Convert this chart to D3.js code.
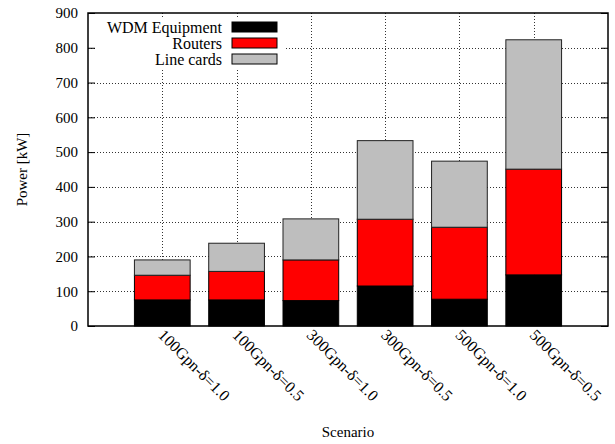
<!DOCTYPE html>
<html>
<head>
<meta charset="utf-8">
<script src="https://cdn.jsdelivr.net/npm/d3@7"></script>
<style>
  html, body { margin: 0; padding: 0; background: #fff; }
</style>
</head>
<body>
<svg id="chart" width="615" height="444"></svg>
<script>
// Scenarios and stacked power components (kW)
const scenarios = ["100Gpn-δ=1.0", "100Gpn-δ=0.5", "300Gpn-δ=1.0", "300Gpn-δ=0.5", "500Gpn-δ=1.0", "500Gpn-δ=0.5"];
const wdmEquipment = [75, 75, 73, 115, 77, 147];
const routers = [71, 82, 117, 192, 207, 304];
const lineCards = [44, 81, 118, 226, 190, 372];
const seriesNames = ["WDM Equipment", "Routers", "Line cards"];
const seriesColors = ["#000000", "#ff0000", "#bebebe"];
const yTicks = [0, 100, 200, 300, 400, 500, 600, 700, 800, 900];

const FONT = "'Liberation Serif', 'Times New Roman', Times, 'DejaVu Serif', serif";

const svg = d3.select("#chart");
const margin = { left: 88, right: 7, top: 13, bottom: 118 };
const W = 615, H = 444;
const x0 = margin.left, x1 = W - margin.right;
const y0 = H - margin.bottom, y1 = margin.top;

// Bars sit at integer positions 1..6 on a 0..7 axis
const x = d3.scaleLinear().domain([0, scenarios.length + 1]).range([x0, x1]);
const y = d3.scaleLinear().domain([0, 900]).range([y0, y1]);
const barW = (x(1) - x(0)) * 0.75;

const rows = scenarios.map((s, i) => ({
  scenario: s, idx: i + 1,
  "WDM Equipment": wdmEquipment[i], "Routers": routers[i], "Line cards": lineCards[i]
}));
const stacked = d3.stack().keys(seriesNames)(rows);

function label(sel, size = 15) {
  return sel.style("font-family", FONT).style("font-size", size + "px").attr("fill", "#000");
}

// Grid
const grid = svg.append("g").attr("stroke", "#333").attr("stroke-width", 1)
  .attr("stroke-dasharray", "1,2").attr("shape-rendering", "crispEdges");
yTicks.filter(t => t > 0 && t < 900).forEach(t => {
  grid.append("line").attr("x1", x0).attr("x2", x1)
    .attr("y1", Math.round(y(t)) + 0.5).attr("y2", Math.round(y(t)) + 0.5);
});
rows.forEach(r => {
  grid.append("line").attr("y1", y0).attr("y2", y1)
    .attr("x1", Math.round(x(r.idx)) + 0.5).attr("x2", Math.round(x(r.idx)) + 0.5);
});

// Stacked bars
stacked.forEach((layer, k) => {
  svg.append("g").selectAll("rect").data(layer).join("rect")
    .attr("x", d => x(d.data.idx) - barW / 2)
    .attr("width", barW)
    .attr("y", d => y(d[1]))
    .attr("height", d => y(d[0]) - y(d[1]))
    .attr("fill", seriesColors[k])
    .attr("stroke", k === 2 ? "#222" : "#000")
    .attr("stroke-width", 1);
});

// Legend with white backing
const legX = 222, legSwX = 232, legSwW = 45, legY0 = 27, legDy = 16;
svg.append("rect").attr("x", 96).attr("y", 17).attr("width", 190).attr("height", 51).attr("fill", "#fff");
seriesNames.forEach((n, k) => {
  const cy = legY0 + k * legDy;
  svg.append("text").attr("x", legX).attr("y", cy).attr("dy", "0.35em")
    .attr("text-anchor", "end").call(label, 16).text(n);
  svg.append("rect").attr("x", legSwX).attr("y", cy - 5).attr("width", legSwW).attr("height", 10)
    .attr("fill", seriesColors[k]).attr("stroke", "#000").attr("stroke-width", 1);
});

// Border
svg.append("rect").attr("x", x0).attr("y", y1).attr("width", x1 - x0).attr("height", y0 - y1)
  .attr("fill", "none").attr("stroke", "#000").attr("stroke-width", 1.5);

// Left axis (ticks inward)
const yAxisL = d3.axisLeft(y).tickValues(yTicks).tickSizeInner(-7).tickSizeOuter(0).tickPadding(10);
const gL = svg.append("g").attr("transform", `translate(${x0},0)`).call(yAxisL);
gL.select(".domain").remove();
gL.selectAll("text").call(label, 15);
gL.selectAll("line").attr("stroke", "#000");

// Right axis (ticks inward)
const yAxisR = d3.axisRight(y).tickValues(yTicks).tickSizeInner(-7).tickSizeOuter(0).tickFormat("");
const gR = svg.append("g").attr("transform", `translate(${x1},0)`).call(yAxisR);
gR.select(".domain").remove();
gR.selectAll("line").attr("stroke", "#000");

// Rotated category labels
const gx = svg.append("g");
rows.forEach(r => {
  gx.append("text")
    .attr("transform", `translate(${x(r.idx) - 5},${y0 + 10}) rotate(45)`)
    .attr("text-anchor", "start").call(label, 16)
    .text(r.scenario);
});

// Axis titles
svg.append("text").attr("x", (x0 + x1) / 2).attr("y", 437).attr("text-anchor", "middle")
  .call(label, 15).text("Scenario");
svg.append("text").attr("transform", `translate(27,${(y0 + y1) / 2}) rotate(-90)`)
  .attr("text-anchor", "middle").call(label, 15).text("Power [kW]");
</script>
</body>
</html>
